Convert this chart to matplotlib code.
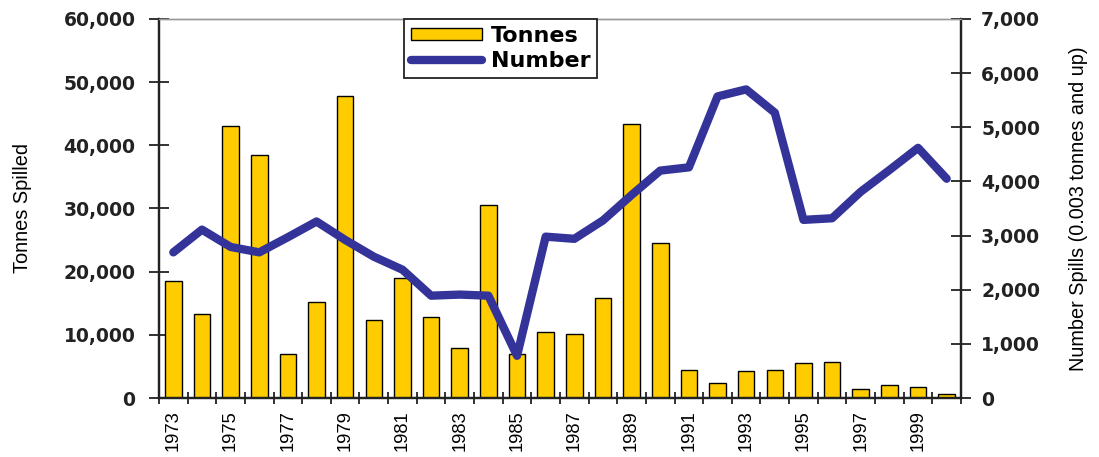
import matplotlib
matplotlib.use("Agg")
import matplotlib.pyplot as plt
from matplotlib.ticker import FuncFormatter, FixedLocator
import numpy as np

years = [1973, 1974, 1975, 1976, 1977, 1978, 1979, 1980, 1981, 1982,
         1983, 1984, 1985, 1986, 1987, 1988, 1989, 1990, 1991, 1992,
         1993, 1994, 1995, 1996, 1997, 1998, 1999, 2000]
tonnes = [18500, 13300, 43100, 38400, 7000, 15200, 47800, 12300, 19000, 12800,
          7900, 30500, 7000, 10400, 10200, 15900, 43400, 24600, 4400, 2400,
          4200, 4400, 5500, 5700, 1500, 2000, 1700, 600]
numbers = [2690, 3110, 2790, 2690, 2970, 3260, 2920, 2610, 2370, 1890,
           1910, 1890, 780, 2980, 2940, 3280, 3750, 4200, 4260, 5570,
           5700, 5270, 3290, 3320, 3810, 4210, 4620, 4050]
year_labels = [str(y) if (y - 1973) % 2 == 0 else "" for y in years]

BAR = "#FFCC00"
LINE = "#333399"
NARROW = ["Liberation Sans", "DejaVu Sans"]
BOLD = ["DejaVu Sans"]

fig = plt.figure(figsize=(10.99, 4.57), dpi=100)
ax = fig.add_axes([159/1099, 1-398/457, (961-159)/1099, (398-19)/457])
ax2 = ax.twinx()

x = np.arange(len(years))
bars = ax.bar(x, tonnes, width=0.58, color=BAR, edgecolor="black", linewidth=1.0,
              label="Tonnes", zorder=2)
line, = ax2.plot(x, numbers, color=LINE, linewidth=6, solid_joinstyle="round",
                 solid_capstyle="round", label="Number", zorder=3)

ax.set_xlim(-0.5, len(years) - 0.5)
ax.set_ylim(0, 60000)
ax2.set_ylim(0, 7000)
ax.set_yticks(np.arange(0, 60001, 10000))
ax2.set_yticks(np.arange(0, 7001, 1000))
fmt = FuncFormatter(lambda v, p: f"{int(v):,}")
ax.yaxis.set_major_formatter(fmt)
ax2.yaxis.set_major_formatter(fmt)

# x ticks: labels at centres, tick marks at category boundaries
ax.set_xticks(x)
ax.set_xticklabels(year_labels, rotation=90, family=NARROW, fontsize=13.2)
ax.xaxis.set_minor_locator(FixedLocator(np.arange(-0.5, len(years), 1.0)))
ax.tick_params(axis="x", which="major", length=0, pad=9)
ax.tick_params(axis="x", which="minor", direction="inout", length=9, width=1.3, color="#222222")

ax.tick_params(axis="y", direction="inout", length=14, width=1.3, pad=10, color="#222222")
ax2.tick_params(axis="y", direction="inout", length=14, width=1.3, pad=7.5, color="#222222")
for lab in ax.get_yticklabels() + ax2.get_yticklabels():
    lab.set_fontfamily(BOLD)
    lab.set_fontweight("bold")
    lab.set_fontsize(13.5)
    lab.set_color("#222222")

for a in (ax, ax2):
    for s in ("left", "right", "bottom"):
        a.spines[s].set_color("#222222")
        a.spines[s].set_linewidth(1.6)
    a.spines["top"].set_color("#999999")
    a.spines["top"].set_linewidth(1.0)

ax.set_ylabel("Tonnes Spilled", family=NARROW, fontsize=14.4, va="center")
ax.yaxis.set_label_coords((22-159)/802, 0.5)
ax2.set_ylabel("Number Spills (0.003 tonnes and up)", family=NARROW, fontsize=14.3,
               va="center", rotation=90)
ax2.yaxis.set_label_coords((1078-159)/802, 0.5)

leg = ax2.legend([bars, line], ["Tonnes", "Number"], loc="upper left",
                 bbox_to_anchor=(404/1099, 1-19/457), bbox_transform=fig.transFigure,
                 borderaxespad=0, fancybox=False, framealpha=1, edgecolor="#222222",
                 prop={"family": BOLD, "weight": "bold", "size": 16},
                 handlelength=3.2, handleheight=0.45, handletextpad=0.4,
                 labelspacing=0.25, borderpad=0.3)
leg.get_frame().set_linewidth(1.3)
leg.set_zorder(10)

fig.savefig("out.png", dpi=100)
